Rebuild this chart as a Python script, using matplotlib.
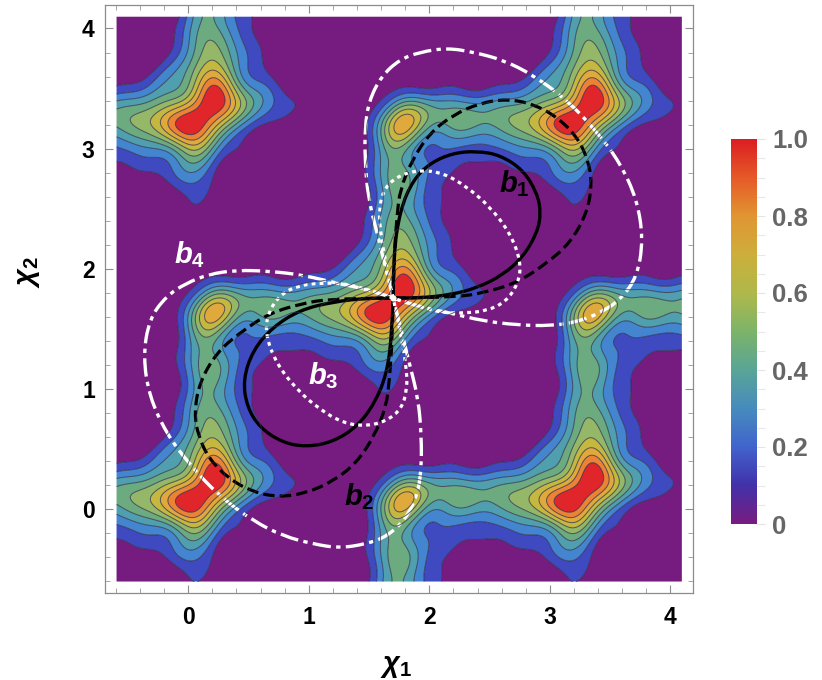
import numpy as np
import matplotlib
matplotlib.use("Agg")
import matplotlib.pyplot as plt
from matplotlib.path import Path
from matplotlib.patches import PathPatch
from matplotlib.colors import LinearSegmentedColormap
from matplotlib.ticker import MultipleLocator

plt.rcParams['font.family'] = ['Liberation Sans', 'DejaVu Sans']
plt.rcParams['mathtext.fontset'] = 'custom'
plt.rcParams['mathtext.it'] = 'Liberation Sans:italic:bold'
plt.rcParams['mathtext.bf'] = 'Liberation Sans:bold'
plt.rcParams['mathtext.rm'] = 'Liberation Sans:bold'

# Field readings: contour traces read off one clean period of the picture,
# in reading units of a 3x crop (see to_data)
TRACES = {
 0.1: [(470,50),(465,100),(470,200),(470,300),(455,370),(430,415),(390,455),(340,480),(270,495),(190,500),(100,495),(30,492),
       (690,50),(770,155),(845,150),(720,190),(695,230),(690,290),(700,350),(720,420),(750,480),(800,520),(820,545),(810,565),(760,585),
       (700,610),(650,660),(620,710),(580,770),(545,825),(530,845),(515,845),(490,825),(440,785),(370,745),(300,722),(220,717),(170,730),
       (135,780),(125,845),(465,-20),(510,-20),(535,-50),(580,-72),(750,-75),(845,-75),(465,150),(465,330),(300,488),(130,495)],
 0.15: [(680,120),(720,130),(670,170),(660,200)],
 0.2: [(70,845),(75,760),(110,700),(200,690),(300,690),(380,715),(450,750),(510,782),(545,770),(590,700),(640,640),(700,600),(757,545),
       (720,490),(680,420),(650,330),(640,230),(650,140),(700,100),(845,93),(190,520),(280,515),(360,495),(430,445),(480,370),(495,280),
       (498,200),(497,50),(487,30),(570,-55),(750,-50),(495,150),(487,330),(652,330),(650,150),(130,515),(130,695),(300,508)],
 0.3: [(720,545),(690,490),(650,410),(615,320),(605,230),(605,150),(625,95),(680,70),(845,65),(680,590),(630,630),(580,690),(545,745),
       (520,750),(470,725),(400,685),(330,660),(220,650),(100,655),(45,690),(38,845),(220,545),(320,530),(400,500),(470,440),(505,360),
       (520,270),(522,50),(503,30),(570,-42),(750,-30),(520,150),(508,330),(618,330),(130,540),(130,655),(300,533),(300,658)],
 0.4: [(695,545),(670,500),(630,430),(590,340),(578,240),(585,130),(610,70),(650,45),(845,42),(660,590),(610,630),(560,690),(520,722),
       (470,705),(400,665),(330,640),(220,628),(110,632),(30,660),(10,720),(5,845),(220,570),(320,555),(410,520),(480,470),(525,380),
       (543,260),(545,170),(530,90),(516,30),(570,-28),(750,-8),(543,150),(530,330),(590,330),(582,150),(130,560),(130,632),(300,558),(300,635)],
 0.5: [(320,595),(380,575),(440,545),(490,500),(530,420),(565,345),(590,400),(620,470),(672,535),(660,580),(620,620),(560,670),(520,700),
       (470,680),(400,640),(527,30),(570,-15),(690,30),(570,145),(120,590)],
 0.6: [(368,595),(430,565),(490,520),(530,460),(565,395),(600,450),(640,510),(655,545),(630,590),(570,650),(520,685),(460,655),
       (541,30),(570,-3),(648,30),(570,100),(78,583)],
 0.7: [(400,600),(460,565),(520,520),(550,470),(572,430),(610,480),(640,530),(625,570),(570,630),(520,665),(460,645),
       (545,30),(575,5),(612,25),(570,70),(47,580)],
 0.8: [(430,605),(480,570),(530,530),(575,455),(610,490),(630,530),(610,570),(560,620),(520,655),(470,640)],
 0.78: [(575,30)],
 0.9: [(455,605),(480,590),(520,570),(545,520),(575,480),(600,490),(612,525),(590,560),(560,575),(530,620),(510,638),(470,625)],
 0.47: [(220,600),(560,240)],
 0.49: [(150,595),(280,600),(565,170)],
 1.0: [(535,570)],
 1.05: [(490,610),(585,520)],
}
PURPLE = [(150,150),(250,100),(350,100),(100,200),(200,200),(300,200),(400,200),(50,280),(100,300),(200,300),(300,300),
        (380,300),(100,400),(200,400),(300,430),(370,400),(30,400),(30,450),(770,200),(800,300),(750,300),(800,400),(835,250),(835,400),
        (835,500),(760,400),(700,700),(800,650),(780,750),(700,800),(640,800),(835,800),(835,600),(200,800),(300,800),(400,820),
        (250,770),(340,780),(135,166),(60,220),(150,250),(250,150),(350,150),(420,150),(150,350),(250,350),(340,370),(250,420),(80,450),
        (780,440),(835,300),(835,450),(740,720),(660,760),(760,690),(830,700),(600,820),(240,820),(350,830),(240,265),(235,240),
        (300,-90),(350,-90),(400,-90),(300,-50),(350,-50),(400,-50),(300,-10),(350,-10),(400,-10),
        (300,30),(350,30),(400,30),(300,70),(350,70),(400,70),(430,-70),(430,-30),(430,0),(430,40),(430,90),(420,-150),
        (260,-120),(340,-120),(420,-120),(500,-130),(580,-140),(660,-140),(740,-140),(820,-140),
        (260,-190),(340,-190),(420,-190),(500,-190),(580,-190),(660,-190),(740,-190),(820,-190),
        (260,-250),(340,-250),(420,-250),(500,-240),(580,-240),(660,-250),(740,-250),(820,-250),
        (200,-190),(200,-250),(150,-300),(850,-320),(780,-330),(700,-300)]

# Loop curves (chi1, chi2)
CENTER = (1.70, 1.757)
b1 = [(1.70,1.757),(1.70,2.10),(1.757,2.49),(1.865,2.74),(2.006,2.88),(2.197,2.964),(2.396,2.98),(2.587,2.947),(2.778,2.823),
      (2.894,2.631),(2.927,2.465),(2.894,2.299),(2.778,2.10),(2.612,1.95),(2.396,1.841),(2.172,1.783),(1.923,1.758),(1.70,1.757),
      (1.477,1.756),(1.20,1.725),(0.927,1.658),(0.703,1.517),(0.537,1.325),(0.454,1.076),(0.487,0.851),(0.595,0.676),(0.786,0.552),
      (0.985,0.518),(1.20,0.56),(1.40,0.685),(1.549,0.884),(1.649,1.134),(1.69,1.467),(1.70,1.757)]
b2 = [(1.70,1.757),(1.707,2.10),(1.732,2.448),(1.757,2.656),(1.856,2.906),(2.006,3.131),(2.197,3.281),(2.421,3.38),(2.645,3.414),
      (2.86,3.372),(3.06,3.264),(3.226,3.098),(3.317,2.906),(3.35,2.714),(3.309,2.465),(3.168,2.215),(2.977,2.049),(2.728,1.883),
      (2.446,1.80),(2.23,1.766),(1.70,1.757),(1.17,1.748),(0.954,1.714),(0.672,1.631),(0.423,1.465),(0.232,1.299),(0.091,1.049),
      (0.05,0.80),(0.083,0.608),(0.174,0.416),(0.34,0.25),(0.54,0.142),(0.755,0.10),(0.979,0.134),(1.203,0.233),(1.394,0.383),
      (1.544,0.608),(1.643,0.858),(1.668,1.066),(1.693,1.414),(1.70,1.757)]
b3 = [(1.70,1.757),(1.641,2.032),(1.591,2.324),(1.583,2.515),(1.632,2.682),(1.757,2.781),(1.923,2.823),(2.114,2.798),(2.313,2.682),
      (2.504,2.515),(2.67,2.299),(2.76,2.06),(2.74,1.88),(2.63,1.72),(2.47,1.65),(2.313,1.633),(2.114,1.633),
      (1.923,1.683),(1.70,1.757),(1.477,1.831),(1.286,1.881),(1.087,1.881),(0.93,1.864),(0.77,1.794),(0.66,1.634),
      (0.64,1.454),(0.73,1.215),(0.896,0.999),(1.087,0.832),(1.286,0.716),(1.477,0.691),(1.643,0.733),(1.768,0.832),(1.817,0.999),
      (1.809,1.19),(1.759,1.482),(1.70,1.757)]
b4 = [(1.70,1.757),(1.566,2.299),(1.491,2.598),(1.466,2.906),(1.466,3.181),(1.50,3.40),(1.60,3.60),(1.75,3.74),(1.923,3.804),
      (2.147,3.838),(2.363,3.804),(2.612,3.738),(2.86,3.613),(3.143,3.405),(3.392,3.139),(3.583,2.881),(3.724,2.573),(3.774,2.24),
      (3.724,1.933),(3.583,1.741),(3.417,1.633),(3.226,1.558),(3.002,1.525),(2.728,1.533),(2.446,1.566),(2.172,1.633),(1.923,1.683),
      (1.70,1.757),(1.477,1.831),(1.228,1.881),(0.954,1.948),(0.672,1.981),(0.398,1.989),(0.174,1.956),(-0.017,1.881),(-0.183,1.773),
      (-0.324,1.581),(-0.374,1.274),(-0.324,0.941),(-0.183,0.633),(0.008,0.375),(0.257,0.109),(0.54,-0.099),(0.788,-0.224),(1.037,-0.29),
      (1.253,-0.324),(1.477,-0.29),(1.65,-0.226),(1.80,-0.086),(1.90,0.114),(1.934,0.333),(1.934,0.608),(1.909,0.916),(1.834,1.215),
      (1.70,1.757)]

BAND_LEVELS = [0.1, 0.2, 0.3, 0.4, 0.5, 0.6, 0.7, 0.8, 0.9]
BAND_COLORS = ['#761C80', '#3F49C0', '#4485D0', '#4F9FAE', '#6CAA80', '#94B868', '#C4B840', '#E0A93C', '#EB8234', '#E0262A']
BAR_COLORS = ['#781C81', '#4232AA', '#4164CD', '#468CBE', '#5AA596', '#7DB469', '#AFB94B', '#CDAF3C', '#E19632', '#E65A28', '#DC1E23']
X_TICKS = [0, 1, 2, 3, 4]
BAR_TICKS = [0, 0.2, 0.4, 0.6, 0.8, 1.0]
BAR_LABELS = ['0', '0.2', '0.4', '0.6', '0.8', '1.0']
LABELS = [(2.58, 2.64, '$b_1$', 'black'), (1.29, 0.03, '$b_2$', 'black'), (0.99, 1.04, '$b_3$', 'white'), (-0.12, 2.05, '$b_4$', 'white')]

W, H = 822, 680
FL, FR, FT, FB = 104.5, 693.3, 4.7, 593.3


def to_data(zx, zy):
    return 1.757 + zx / 361.5, 1.741 - zy / 360.6


def grow(seed, allowed):
    """Flood seed through allowed, on the 4-neighbour grid."""
    cur = seed & allowed
    while True:
        nxt = cur.copy()
        nxt[1:, :] |= cur[:-1, :]
        nxt[:-1, :] |= cur[1:, :]
        nxt[:, 1:] |= cur[:, :-1]
        nxt[:, :-1] |= cur[:, 1:]
        nxt &= allowed
        if (nxt == cur).all():
            return cur
        cur = nxt


def build_field(gx, gy):
    pts = []
    weights = []
    for v, tr in TRACES.items():
        for zx, zy in tr:
            x, y = to_data(zx, zy)
            pts.append((x, y, v))
            pts.append((0.28 - y, 0.28 - x, v))
            w = 2.5 if v == 0.1 else 1.0
            weights += [w, w]
    n_fixed = len(pts)
    for zx, zy in PURPLE:
        x, y = to_data(zx, zy)
        pts.append((x, y, 0.03))
        pts.append((0.28 - y, 0.28 - x, 0.03))
        weights += [1.0, 1.0]
    pts = np.array(pts)
    weights = np.array(weights)
    modes = []
    M = 8
    for m in range(-M, M + 1):
        for n in range(-M, M + 1):
            if (m + n) % 2 == 0 and (m > 0 or (m == 0 and n >= 0)):
                modes.append((2 * m, 2 * n))
    modes = np.array(modes, float)

    def basis(x, y):
        ph = np.outer(x, modes[:, 0]) + np.outer(y, modes[:, 1])
        return np.hstack([np.cos(ph), np.sin(ph)[:, 1:]])

    A = basis(pts[:, 0], pts[:, 1])
    k2 = (modes ** 2).sum(axis=1)
    pen = np.concatenate([k2, k2[1:]]) / 100.0
    lam = 0.0025
    AA = (A.T * weights) @ A + lam * np.diag((1 + pen) ** 2)
    t = pts[:, 2].copy()
    # purple only says "below the first contour": let those readings float there
    for _ in range(12):
        coef = np.linalg.solve(AA, (A.T * weights) @ t)
        pred = A @ coef
        t[n_fixed:] = np.clip(pred[n_fixed:], -0.02, 0.04)
    X, Y = np.meshgrid(gx, gy)
    Z = (basis(X.ravel(), Y.ravel()) @ coef).reshape(X.shape)
    # the picture has no stray islands or pits: what is not joined to a peak, or to the purple, goes
    joined = grow(Z > 0.6, Z >= 0.1)
    Z[(Z >= 0.1) & ~joined] = 0.05
    outer = grow(Z < 0.1, Z < 0.2)
    Z[(Z < 0.2) & ~outer] = 0.21
    return Z


def loop_patch(points, **kw):
    p = np.array(points)
    verts = [p[0]]
    codes = [Path.MOVETO]
    for i in range(1, len(p) - 1):
        end = p[i + 1] if i == len(p) - 2 else (p[i] + p[i + 1]) / 2
        verts += [p[i], end]
        codes += [Path.CURVE3, Path.CURVE3]
    return PathPatch(Path(np.array(verts), codes), fill=False, capstyle='butt', **kw)


fig = plt.figure(figsize=(W / 100, H / 100), dpi=100)
ax = fig.add_axes([FL / W, 1 - FB / H, (FR - FL) / W, (FB - FT) / H])
gx = np.linspace(-0.595, 4.095, 500)
gy = np.linspace(-0.602, 4.098, 500)
Z = build_field(gx, gy)
ax.contourf(gx, gy, Z, levels=[-10] + BAND_LEVELS + [10], colors=BAND_COLORS, antialiased=True)
ax.contour(gx, gy, Z, levels=BAND_LEVELS, colors='#2A2A45', linewidths=0.7, alpha=0.75)

ax.add_patch(loop_patch(b4, edgecolor='white', linewidth=2.4, linestyle=(0, (5.5, 1.6, 1.3, 1.6))))
ax.add_patch(loop_patch(b2, edgecolor='black', linewidth=2.3, linestyle=(0, (3.6, 1.6))))
ax.add_patch(loop_patch(b1, edgecolor='black', linewidth=2.4))
ax.add_patch(loop_patch(b3, edgecolor='white', linewidth=2.3, linestyle=(0, (1.2, 1.3))))
ax.plot([CENTER[0]], [CENTER[1]], 'o', color='white', ms=3.5, zorder=5)
for x, y, s, c in LABELS:
    ax.text(x, y, s, color=c, fontsize=21, ha='left', va='baseline', zorder=6)

ax.set_xlim(-0.695, 4.19)
ax.set_ylim(-0.70, 4.198)
ax.set_xticks(X_TICKS)
ax.set_yticks(X_TICKS)
ax.xaxis.set_minor_locator(MultipleLocator(0.2))
ax.yaxis.set_minor_locator(MultipleLocator(0.2))
ax.tick_params(which='major', direction='in', length=5.8, width=0.8, color='#8C8C8C', top=True, right=True,
               labelsize=16.5)
ax.tick_params(axis='x', which='major', pad=9)
ax.tick_params(axis='y', which='major', pad=7)
ax.tick_params(which='minor', direction='in', length=3.4, width=0.7, color='#A5A5A5', top=True, right=True)
for lab in ax.get_xticklabels() + ax.get_yticklabels():
    lab.set_fontweight('bold')
for s in ax.spines.values():
    s.set_color('#8C8C8C')
    s.set_linewidth(0.9)

fig.text(396 / W, 1 - 666 / H, r'$\chi_{\mathbf{1}}$', fontsize=21, ha='center', va='center')
fig.text(28 / W, 1 - 272 / H, r'$\chi_{\mathbf{2}}$', fontsize=21, ha='center', va='center', rotation=90)

cax = fig.add_axes([731 / W, 1 - 524 / H, 26 / W, 385 / H])
cmap = LinearSegmentedColormap.from_list('rain', BAR_COLORS)
cax.imshow(np.linspace(1, 0, 256).reshape(-1, 1), aspect='auto', cmap=cmap, extent=[0, 1, 0, 1])
for s in cax.spines.values():
    s.set_visible(False)
cax.set_xticks([])
cax.yaxis.tick_right()
cax.set_yticks(BAR_TICKS)
cax.set_yticklabels(BAR_LABELS, fontweight='bold', fontsize=18.5, color='#666666')
cax.yaxis.set_minor_locator(MultipleLocator(0.05))
cax.tick_params(axis='y', which='major', length=5.8, width=0.8, color='#E4E4E4', pad=5.2)
cax.tick_params(axis='y', which='minor', length=5.8, width=0.8, color='#E8E8E8')
fig.savefig('out.png', dpi=100)
